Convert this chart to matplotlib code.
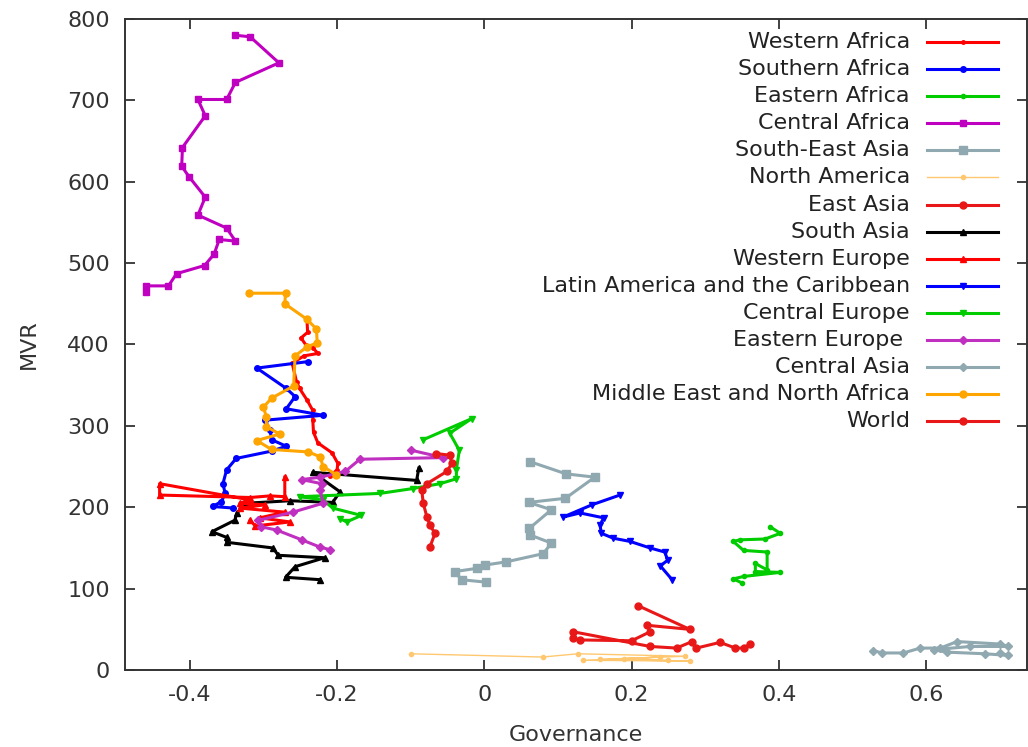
import matplotlib
matplotlib.use('Agg')
import matplotlib.pyplot as plt

# ---- data ----
western_africa_x = [-0.241, -0.240, -0.249, -0.242, -0.233, -0.226, -0.245, -0.261, -0.255, -0.251,
                    -0.241, -0.233, -0.233, -0.232, -0.226, -0.207, -0.199, -0.200, -0.210]
western_africa_y = [432, 415, 408, 399, 396, 389, 386, 377, 354, 346, 332, 319, 307, 292, 279, 267, 254, 246, 238]

southern_africa_x = [-0.239, -0.309, -0.269, -0.257, -0.269, -0.219, -0.298, -0.291, -0.289, -0.269,
                     -0.289, -0.337, -0.350, -0.355, -0.352, -0.357, -0.369, -0.341]
southern_africa_y = [379, 371, 346, 336, 321, 313, 307, 295, 283, 275, 269, 260, 246, 229, 217, 207, 201, 199]

eastern_africa_x = [0.388, 0.402, 0.381, 0.347, 0.338, 0.352, 0.384, 0.384, 0.368, 0.368, 0.402, 0.352, 0.338, 0.350]
eastern_africa_y = [176, 168, 161, 160, 158, 147, 145, 123, 131, 121, 120, 115, 112, 107]

central_africa_x = [-0.339, -0.318, -0.279, -0.338, -0.350, -0.389, -0.379, -0.410, -0.411, -0.401, -0.379,
                    -0.389, -0.350, -0.338, -0.360, -0.367, -0.380, -0.418, -0.429, -0.460, -0.460]
central_africa_y = [780, 778, 746, 722, 701, 701, 681, 642, 619, 606, 581, 559, 543, 527, 529, 511, 497, 487,
                    472, 472, 465]

se_asia_x = [0.062, 0.111, 0.150, 0.110, 0.060, 0.091, 0.061, 0.062, 0.091, 0.080, 0.030, 0.001, -0.010,
             -0.040, -0.031, 0.002]
se_asia_y = [256, 241, 237, 211, 206, 197, 174, 166, 156, 143, 133, 129, 125, 121, 111, 108]

north_america_x = [-0.100, 0.079, 0.127, 0.273, 0.134, 0.279, 0.157, 0.238, 0.190, 0.250]
north_america_y = [20, 16, 20, 17, 12, 11, 13, 16, 14, 12]

east_asia_x = [0.209, 0.279, 0.221, 0.225, 0.200, 0.130, 0.121, 0.121, 0.225, 0.261, 0.282, 0.288, 0.320,
               0.341, 0.352, 0.361]
east_asia_y = [79, 50, 55, 47, 36, 37, 39, 47, 29, 27, 35, 27, 34, 27, 27, 32]

south_asia_x = [-0.089, -0.092, -0.233, -0.196, -0.206, -0.264, -0.323, -0.336, -0.339, -0.370, -0.350,
                -0.350, -0.287, -0.280, -0.217, -0.257, -0.270, -0.223]
south_asia_y = [248, 233, 243, 219, 206, 208, 205, 193, 184, 170, 163, 157, 150, 141, 138, 127, 114, 111]

western_europe_x = [-0.271, -0.271, -0.291, -0.318, -0.441, -0.441, -0.318, -0.332, -0.298, -0.332, -0.271,
                    -0.305, -0.264, -0.311, -0.318]
western_europe_y = [237, 213, 214, 212, 215, 229, 209, 205, 203, 199, 194, 187, 182, 177, 184]

latin_america_x = [0.184, 0.146, 0.107, 0.130, 0.162, 0.157, 0.159, 0.175, 0.198, 0.225, 0.245, 0.249,
                   0.239, 0.255]
latin_america_y = [215, 203, 188, 193, 187, 178, 168, 162, 158, 150, 145, 135, 128, 111]

central_europe_x = [-0.083, -0.017, -0.047, -0.034, -0.038, -0.038, -0.060, -0.097, -0.142, -0.251,
                    -0.219, -0.206, -0.167, -0.187, -0.196]
central_europe_y = [283, 309, 291, 270, 246, 235, 229, 223, 217, 213, 209, 199, 190, 182, 186]

eastern_europe_x = [-0.099, -0.056, -0.169, -0.189, -0.223, -0.248, -0.221, -0.223, -0.219, -0.260,
                    -0.307, -0.303, -0.282, -0.248, -0.223, -0.210]
eastern_europe_y = [270, 261, 259, 244, 237, 234, 229, 221, 205, 194, 184, 176, 172, 160, 151, 148]

central_asia_x = [0.528, 0.540, 0.569, 0.592, 0.619, 0.642, 0.700, 0.711, 0.660, 0.610, 0.628, 0.680,
                  0.711, 0.700]
central_asia_y = [24, 21, 21, 27, 27, 35, 32, 29, 29, 25, 22, 20, 18, 21]

mena_x = [-0.319, -0.270, -0.271, -0.241, -0.228, -0.227, -0.241, -0.257, -0.259, -0.289, -0.300, -0.296,
          -0.296, -0.278, -0.309, -0.289, -0.239, -0.223, -0.219, -0.201]
mena_y = [463, 463, 450, 431, 419, 402, 397, 386, 349, 334, 323, 311, 299, 290, 282, 271, 268, 262, 250, 240]

world_x = [-0.065, -0.047, -0.044, -0.051, -0.078, -0.085, -0.083, -0.078, -0.074, -0.067, -0.074]
world_y = [266, 264, 254, 244, 229, 221, 205, 188, 178, 168, 151]

# name, x, y, colour, marker, marker size, line width
series = [
    ("Western Africa", western_africa_x, western_africa_y, "#ff0000", "o", 2.5, 2.2),
    ("Southern Africa", southern_africa_x, southern_africa_y, "#0000ff", "o", 4, 2.2),
    ("Eastern Africa", eastern_africa_x, eastern_africa_y, "#00cc00", "o", 3, 2.2),
    ("Central Africa", central_africa_x, central_africa_y, "#c000c0", "s", 5, 2.2),
    ("South-East Asia", se_asia_x, se_asia_y, "#90a8b0", "s", 6, 2.2),
    ("North America", north_america_x, north_america_y, "#ffc870", "o", 3, 1.0),
    ("East Asia", east_asia_x, east_asia_y, "#e81818", "o", 5, 2.2),
    ("South Asia", south_asia_x, south_asia_y, "#000000", "^", 5, 2.2),
    ("Western Europe", western_europe_x, western_europe_y, "#ff0000", "^", 5, 2.2),
    ("Latin America and the Caribbean", latin_america_x, latin_america_y, "#0000ff", "v", 5, 2.2),
    ("Central Europe", central_europe_x, central_europe_y, "#00cc00", "v", 5, 2.2),
    ("Eastern Europe ", eastern_europe_x, eastern_europe_y, "#c030c0", "D", 4, 2.2),
    ("Central Asia", central_asia_x, central_asia_y, "#90a8b0", "D", 4, 2.2),
    ("Middle East and North Africa", mena_x, mena_y, "#ffa500", "o", 5, 2.2),
    ("World", world_x, world_y, "#e81818", "o", 5, 2.2),
]

plt.rcParams['font.family'] = ['DejaVu Sans']
fig = plt.figure(figsize=(10.28, 7.47), dpi=100)
ax = fig.add_axes([0.1216, 0.103, 0.8775, 0.8717])

for name, xs, ys, col, mk, ms, lw in series:
    ax.plot(xs, ys, color=col, marker=mk, markersize=ms, linewidth=lw, label=name)

ax.set_xlim(-0.488, 0.737)
ax.set_ylim(0, 800)
ax.set_xticks([-0.4, -0.2, 0, 0.2, 0.4, 0.6])
ax.set_xticklabels(['-0.4', '-0.2', '0', '0.2', '0.4', '0.6'])
ax.set_yticks(range(0, 801, 100))
ax.tick_params(direction='in', length=7, width=1.3, top=True, right=True,
               labelsize=16, colors='#333333', pad=11)
for sp in ax.spines.values():
    sp.set_color('#333333')
    sp.set_linewidth(1.4)
ax.set_xlabel('Governance', fontsize=16, color='#333333', labelpad=14)
ax.set_ylabel('MVR', fontsize=16, color='#333333', labelpad=20)

# gnuplot-style key: right aligned text, sample line to the right
for i, (name, xs, ys, col, mk, ms, lw) in enumerate(series):
    yk = 1 - (23 + i * 27.1) / 651
    ax.text(0.870, yk, name, transform=ax.transAxes, ha='right', va='center',
            fontsize=16, color='#222222')
    ax.plot([0.889, 0.968], [yk, yk], transform=ax.transAxes, color=col,
            linewidth=lw, clip_on=False)
    ax.plot([0.929], [yk], transform=ax.transAxes, color=col, marker=mk,
            markersize=ms, clip_on=False)

fig.savefig('out.png', dpi=100)
